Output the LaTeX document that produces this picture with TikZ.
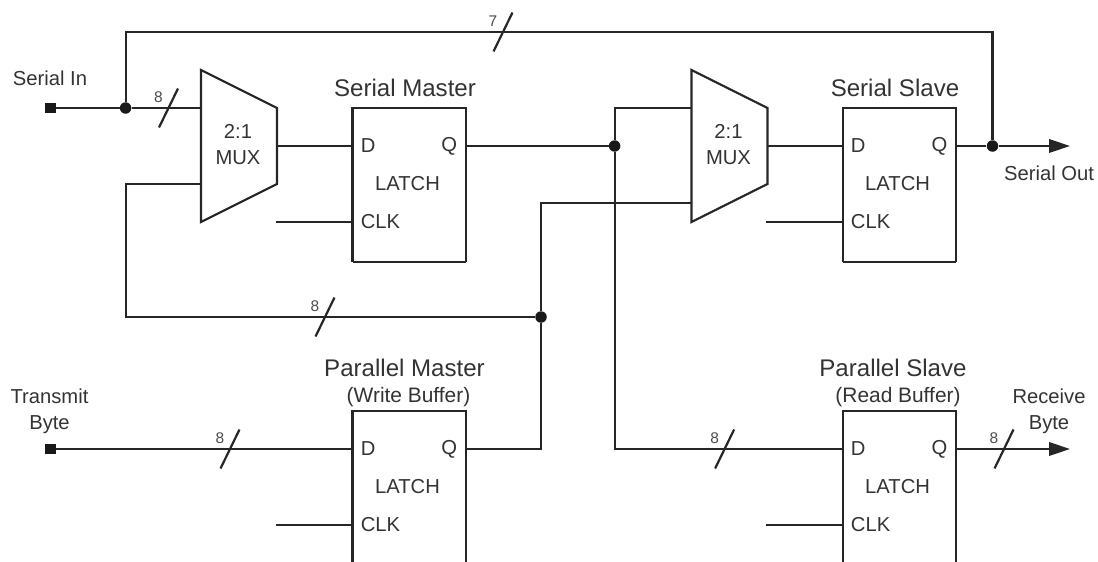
\documentclass[tikz,border=0pt]{standalone}
\usepackage{fontspec}
\setmainfont{Liberation Sans}
\usetikzlibrary{arrows.meta,positioning,shapes}

\tikzset{
    wire/.style={line width=1.25pt, draw=black!85},
    latch/.style={rectangle, minimum width=2.26cm, inner sep=0pt, anchor=north west},
    joint/.style={circle, fill=black!90, minimum size=0.23cm, inner sep=0pt},
    term/.style={rectangle, fill=black!90, minimum size=0.21cm, inner sep=0pt},
    title/.style={text=black!80, font=\fontsize{13.7}{16}\selectfont},
    lbl/.style={text=black!80, align=center, inner sep=0pt, font=\fontsize{11.5}{14.8}\selectfont},
    sublbl/.style={lbl, font=\fontsize{11.9}{14.8}\selectfont},
    buswidth/.style={text=black!70, inner sep=0pt, font=\fontsize{8.8}{10}\selectfont},
    outarrow/.style={wire, -{Triangle[length=0.42cm, width=0.27cm]}}
}

\begin{document}
\begin{tikzpicture}[x=0.02cm, y=-0.02cm]
\useasboundingbox (0,0) rectangle (1098,561);

% Latches, the ports are coordinates on the box edge
\foreach \nm/\x/\y/\h in {smaster/352.5/108/3.06, sslave/842.6/108/3.06, pmaster/352.5/411/3.0, pslave/842.6/411/3.0} {
    \node[latch, minimum height=\h cm] (\nm) at (\x,\y) {};
    \coordinate (\nm-d) at (\x,\y+38);
    \coordinate (\nm-q) at (\x+113,\y+38);
    \coordinate (\nm-c) at (\x,\y+114);
    \coordinate (\nm-stub) at (\x-77,\y+114);
    \node[lbl, anchor=west] (\nm-dl) at (\x+8,\y+38) {D};
    \node[lbl, anchor=east] (\nm-ql) at (\x+105,\y+38) {Q};
    \node[lbl] (\nm-ll) at (\x+55,\y+75.5) {LATCH};
    \node[lbl, anchor=west] (\nm-cl) at (\x+8,\y+114) {CLK};
    \draw[wire] (\nm-stub) -- (\nm-c);
    \draw[wire] (\nm.south west) |- (\nm.north east) -- (\nm.south east);
}
% The serial pair is closed at the bottom
\draw[wire] (smaster.south west) -- (smaster.south east);
\draw[wire] (sslave.south west) -- (sslave.south east);

% Multiplexers
\foreach \nm/\x in {mux1/201, mux2/691.5} {
    \draw[wire, line join=miter] (\x,70) -- (\x+76,108) -- (\x+76,184) -- (\x,222) -- cycle;
    \node[lbl] (\nm) at (\x+37,144.5) {2:1\\MUX};
    \coordinate (\nm-a) at (\x,108);
    \coordinate (\nm-b) at (\x,184);
    \coordinate (\nm-y) at (\x+76,146);
}
\coordinate (mux2-b) at (691.5,203);

% Terminals and junctions
\node[term] (sin) at (50.5,108) {};
\node[term] (tbyte) at (50.5,449) {};
\node[joint] (j1) at (125.6,108) {};
\node[joint] (j2) at (614.6,146) {};
\node[joint] (j3) at (541,317) {};
\node[joint] (j4) at (992.5,146) {};
\coordinate (sout) at (1070,146);
\coordinate (rbyte) at (1070,449);

% Wires
\draw[wire] (sin) -- (j1) -- (mux1-a);
\draw[wire] (j1) |- (503,32) -| (j4);
\draw[wire] (mux1-y) -- (smaster-d);
\draw[wire] (smaster-q) -- (j2);
\draw[wire] (mux2-a) -| (j2);
\draw[wire] (j2) |- (pslave-d);
\draw[wire] (mux2-y) -- (sslave-d);
\draw[wire] (sslave-q) -- (j4);
\draw[outarrow] (j4) -- (sout);
\draw[wire] (mux1-b) -| (125.6,317) -- (j3);
\draw[wire] (pmaster-q) -| (j3);
\draw[wire] (j3) |- (mux2-b);
\draw[wire] (tbyte) -- (pmaster-d);
\draw[outarrow] (pslave-q) -- (rbyte);

% Bus width marks
\foreach \x/\y/\n [count=\i] in {168.5/108/8, 503/32/7, 325/317/8, 230/449/8, 724.6/449/8, 1004/449/8} {
    \node[buswidth] (bus\i) at (\x-10,\y-11) {\n};
    \draw[wire] (\x-9.5,\y+19.5) -- (\x+9.5,\y-19.5);
}

% Labels
\node[lbl] (sinl) at (50,78) {Serial In};
\node[lbl] (soutl) at (1049,173) {Serial Out};
\node[lbl] (tbytel) at (49.5,411.5) {Transmit\\Byte};
\node[lbl] (rbytel) at (1049,411.5) {Receive\\Byte};
\node[title] (smastert) at (405,88) {Serial Master};
\node[title] (sslavet) at (895,88) {Serial Slave};
\node[title] (pmastert) at (404.5,368) {Parallel Master};
\node[title] (pslavet) at (893,368) {Parallel Slave};
\node[sublbl] (pmasters) at (408.5,397) {(Write Buffer)};
\node[sublbl] (pslaves) at (898,397) {(Read Buffer)};
\end{tikzpicture}
\end{document}
